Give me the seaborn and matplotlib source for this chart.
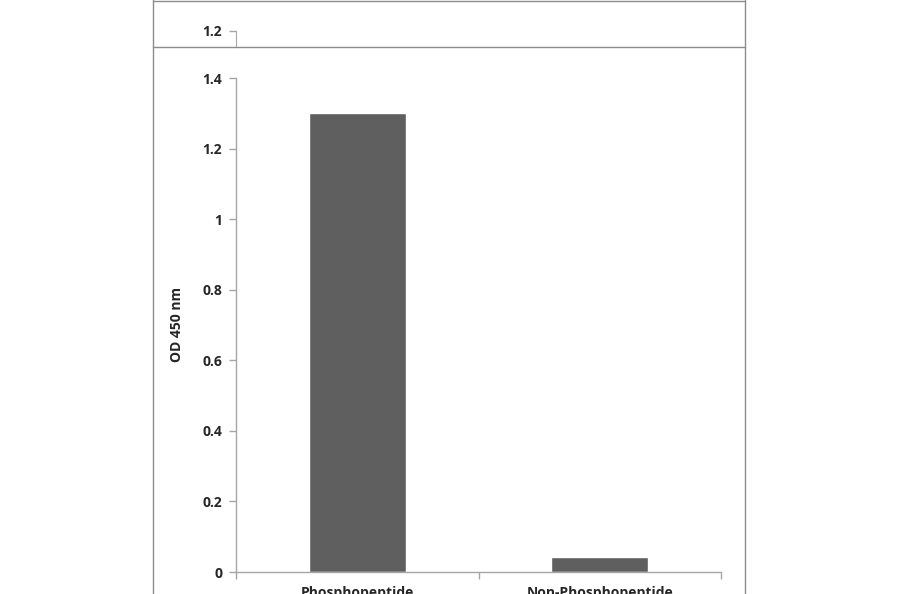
import matplotlib
matplotlib.use("Agg")
import matplotlib.pyplot as plt
from matplotlib.lines import Line2D
import seaborn as sns
import pandas as pd

# data
categories = ["Phosphopeptide", "Non-Phosphopeptide"]
od_values = [1.30, 0.042]
y_ticks = [0, 0.2, 0.4, 0.6, 0.8, 1, 1.2, 1.4]
y_tick_labels = ["0", "0.2", "0.4", "0.6", "0.8", "1", "1.2", "1.4"]

df = pd.DataFrame({"sample": categories, "od": od_values})

sns.set_style("white")
plt.rcParams["font.family"] = ["Open Sans", "DejaVu Sans"]
plt.rcParams["font.weight"] = "bold"

W, H = 900, 594
fig = plt.figure(figsize=(9, 5.94), dpi=100)
axis_grey = "#a6a6a6"
frame_grey = "#8c8c8c"
fs = 10

# main axes
ax = fig.add_axes([236 / W, 22 / H, 485 / W, 494 / H])
sns.barplot(data=df, x="sample", y="od", color="#5f5f5f", width=0.4,
            saturation=1, ax=ax)
ax.set_xlim(-0.5, 1.5)
ax.set_ylim(0, 1.4)
ax.set_yticks(y_ticks)
ax.set_yticklabels(y_tick_labels, fontsize=fs, fontweight="bold")
ax.set_xticks([-0.5, 0.5, 1.5], minor=True)
ax.tick_params(axis="x", which="major", length=0, pad=10, labelsize=fs)
ax.tick_params(axis="x", which="minor", bottom=True, length=5,
               color=axis_grey, width=1)
ax.tick_params(axis="y", left=True, length=5, color=axis_grey, width=1, pad=5)
for lab in ax.get_xticklabels():
    lab.set_fontweight("bold")
ax.set_xlabel("")
ax.set_ylabel("OD 450 nm", fontsize=fs, fontweight="bold", labelpad=13)
sns.despine(ax=ax)
for side in ["left", "bottom"]:
    ax.spines[side].set_color(axis_grey)
    ax.spines[side].set_linewidth(1)

# strip left over from the tile above: top at y=31 px, bottom at y=47 px
ax_top = fig.add_axes([236 / W, (H - 47) / H, 485 / W, 16 / H])
ax_top.set_ylim(1.2 - 16 / 352.9, 1.2)
ax_top.set_yticks([1.2])
ax_top.set_yticklabels(["1.2"], fontsize=fs, fontweight="bold")
ax_top.set_xticks([])
ax_top.tick_params(axis="y", left=True, length=5, color=axis_grey, width=1,
                   pad=5)
ax_top.patch.set_alpha(0)
for side in ["top", "right", "bottom"]:
    ax_top.spines[side].set_visible(False)
ax_top.spines["left"].set_color(axis_grey)


# outer frame lines
def fx(px):
    return px / W


def fy(py):
    return 1 - py / H


for xs, ys in [
    ([fx(153), fx(153)], [fy(0), fy(594)]),
    ([fx(745), fx(745)], [fy(0), fy(594)]),
    ([fx(153), fx(745)], [fy(0.5), fy(0.5)]),
    ([fx(153), fx(745)], [fy(47), fy(47)]),
]:
    fig.add_artist(Line2D(xs, ys, color=frame_grey, linewidth=1,
                          transform=fig.transFigure))

fig.savefig("out.png", dpi=100)
